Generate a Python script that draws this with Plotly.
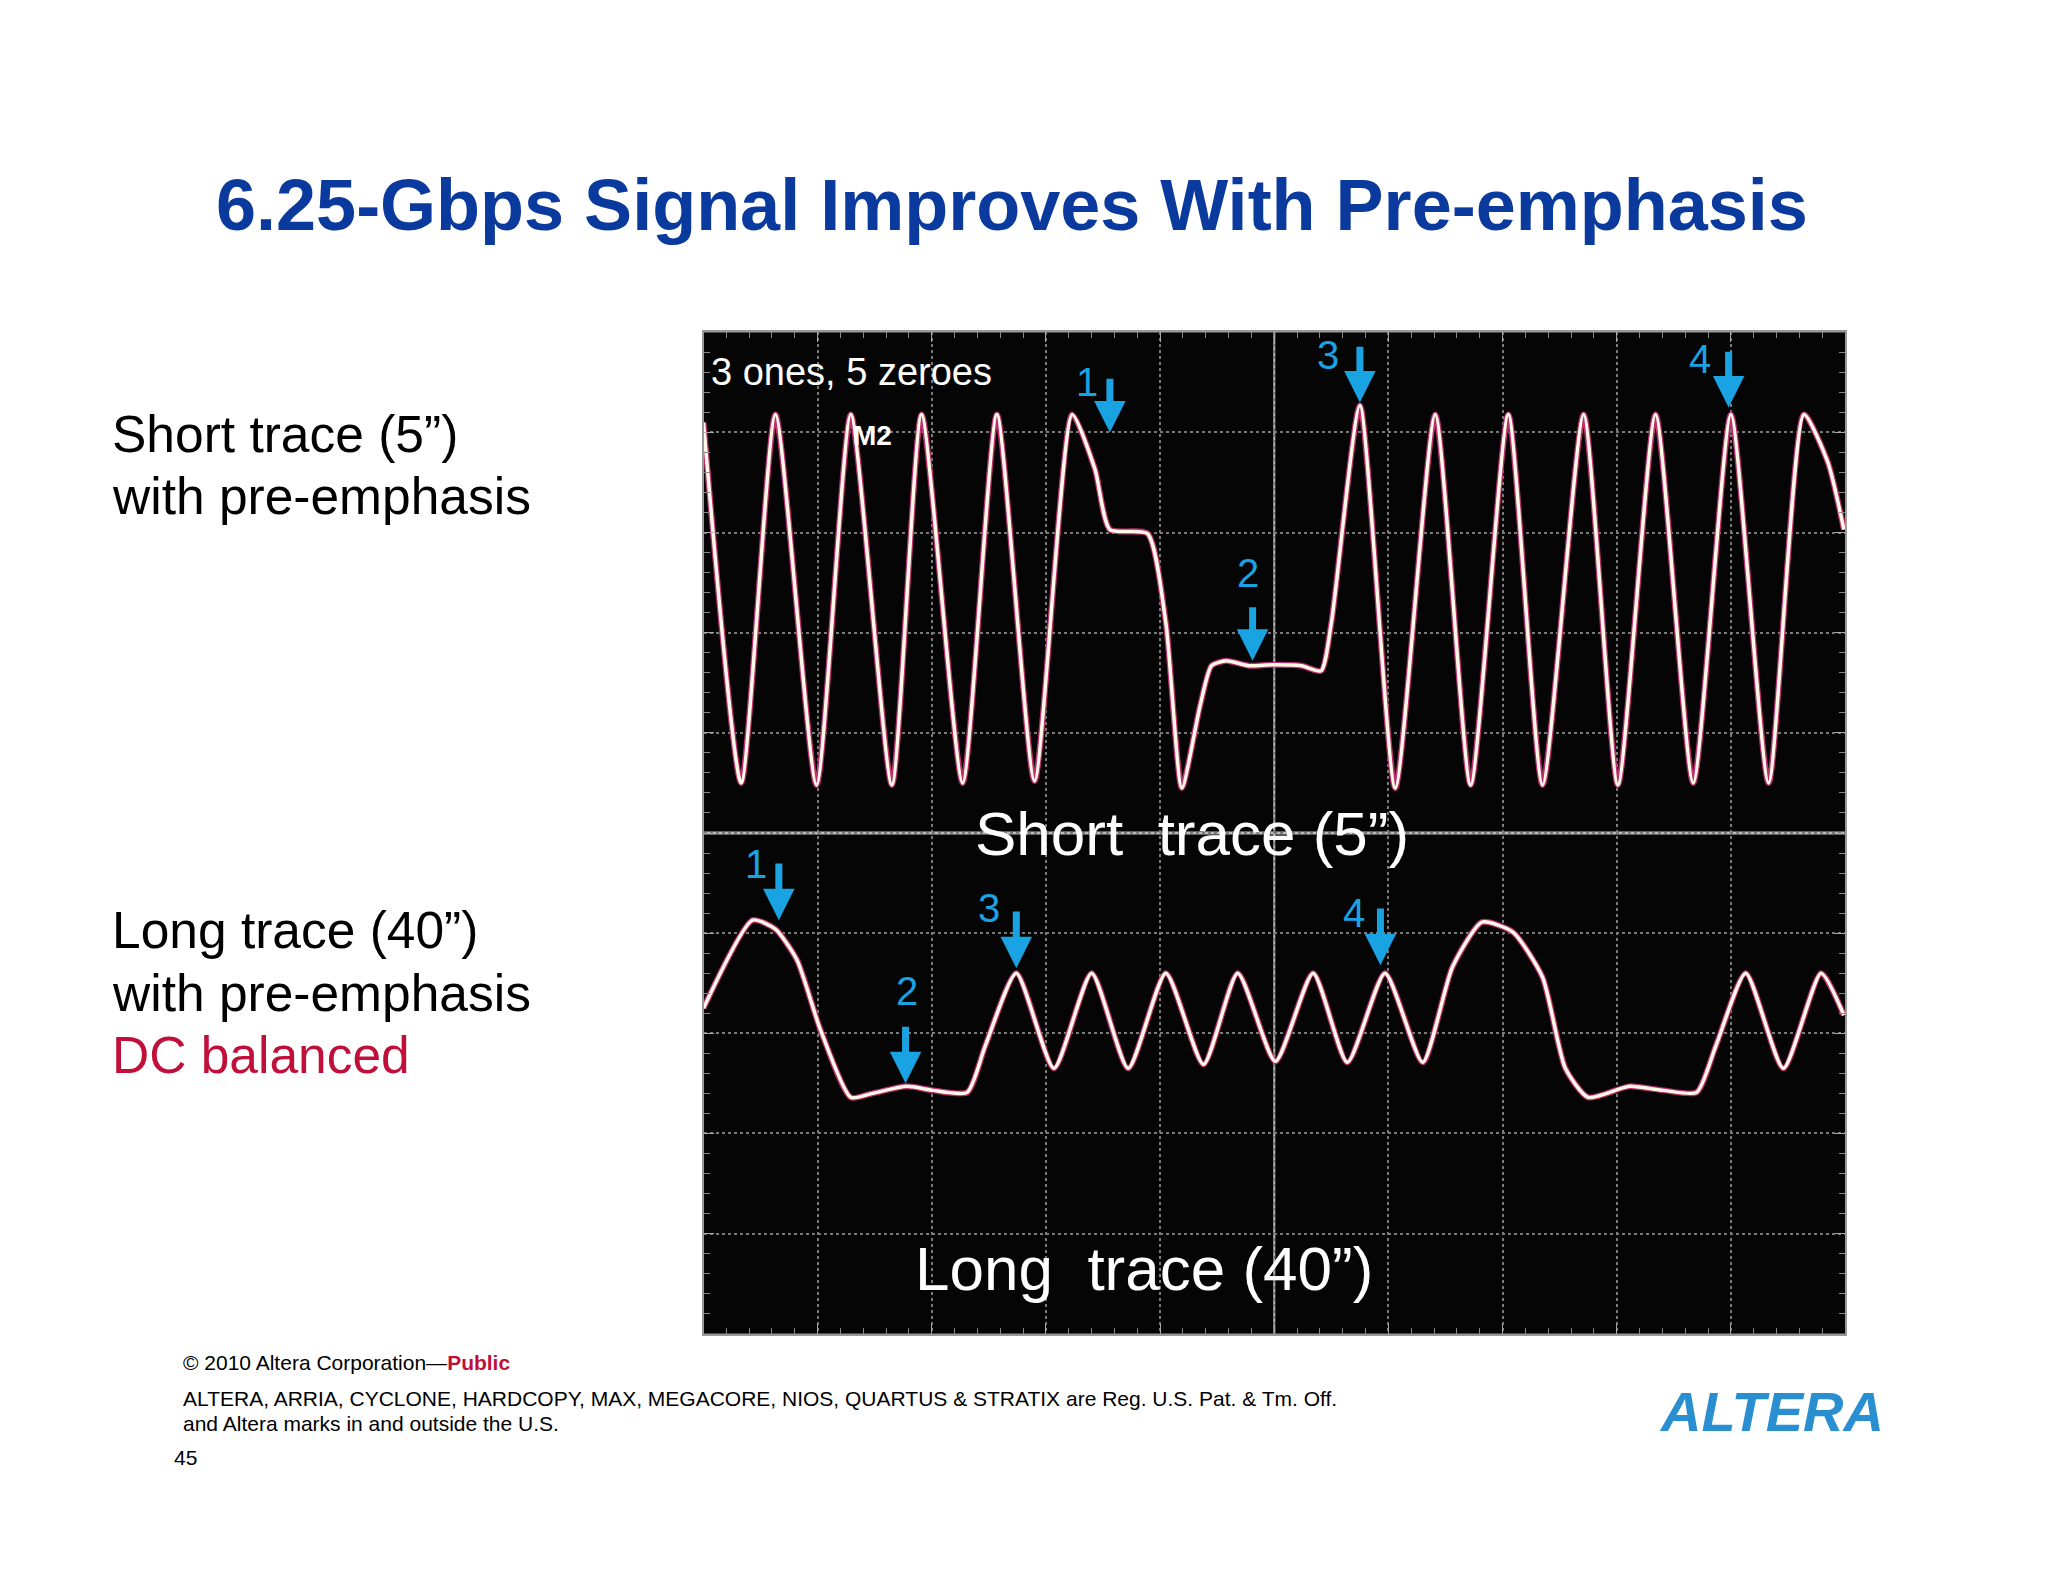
import plotly.graph_objects as go

# Short trace (5") waveform, scope divisions (x 0-10, y 5-10)
short_x = [0, 0.33, 0.63, 0.99, 1.29, 1.65, 1.91, 2.27, 2.57, 2.90, 3.23, 3.43, 3.56, 3.89, 4.05, 4.19,
           4.35, 4.45, 4.58, 4.78, 4.98, 5.24, 5.41, 5.50, 5.75, 6.06, 6.41, 6.72, 7.05, 7.35, 7.71,
           8.01, 8.34, 8.67, 9.00, 9.33, 9.64, 9.85, 9.99]
short_y = [9.1, 5.5, 9.18, 5.48, 9.18, 5.48, 9.18, 5.5, 9.18, 5.52, 9.18, 8.63, 8.03, 7.99, 7.1, 5.45,
           6.27, 6.67, 6.72, 6.67, 6.68, 6.67, 6.62, 7.1, 9.27, 5.45, 9.18, 5.48, 9.18, 5.48, 9.18,
           5.48, 9.18, 5.5, 9.18, 5.5, 9.18, 8.7, 8.03]

# Long trace (40") waveform, scope divisions (x 0-10, y 0-5)
long_x = [0, 0.43, 0.63, 0.82, 1.02, 1.29, 1.48, 1.78, 2.01, 2.31, 2.47, 2.74, 3.07, 3.40, 3.72, 4.05,
          4.38, 4.68, 5.01, 5.34, 5.64, 5.97, 6.30, 6.56, 6.82, 7.09, 7.35, 7.55, 7.75, 8.11, 8.41,
          8.70, 8.87, 9.13, 9.46, 9.79, 9.99]
long_y = [3.25, 4.13, 4.04, 3.73, 3.05, 2.36, 2.40, 2.47, 2.43, 2.41, 2.88, 3.60, 2.65, 3.60, 2.65,
          3.60, 2.69, 3.60, 2.72, 3.60, 2.71, 3.60, 2.71, 3.66, 4.11, 4.01, 3.56, 2.65, 2.36, 2.47,
          2.43, 2.41, 2.88, 3.60, 2.65, 3.60, 3.18]

# Arrow markers: (label, x, tip_y, tail_y, label_x, label_y)
short_arrows = [("1", 3.56, 9.0, 9.55, 3.36, 9.5), ("2", 4.81, 6.72, 7.27, 4.77, 7.6),
                ("3", 5.75, 9.3, 9.87, 5.47, 9.77), ("4", 8.98, 9.25, 9.82, 8.73, 9.73)]
long_arrows = [("1", 0.66, 4.13, 4.71, 0.46, 4.69), ("2", 1.77, 2.5, 3.08, 1.78, 3.42),
               ("3", 2.74, 3.65, 4.23, 2.5, 4.25), ("4", 5.93, 3.68, 4.26, 5.7, 4.2)]

fig = go.Figure()
for xs, ys in [(short_x, short_y), (long_x, long_y)]:
    fig.add_trace(go.Scatter(x=xs, y=ys, mode="lines", line=dict(color="#b8306e", width=6, shape="spline", smoothing=0.6),
                             hoverinfo="skip", showlegend=False))
    fig.add_trace(go.Scatter(x=xs, y=ys, mode="lines", line=dict(color="#fff8e6", width=3.5, shape="spline", smoothing=0.6),
                             hoverinfo="skip", showlegend=False))

BLUE = "#1aa3e3"
for lab, x, tip, tail, lx, ly in short_arrows + long_arrows:
    fig.add_annotation(x=x, y=tip, ax=x, ay=tail, axref="x", ayref="y", xref="x", yref="y",
                       showarrow=True, arrowhead=2, arrowsize=0.9, arrowwidth=7, arrowcolor=BLUE, text="")
    fig.add_annotation(x=lx, y=ly, xref="x", yref="y", text=lab, showarrow=False,
                       font=dict(family="Liberation Sans", size=40, color=BLUE))

W = "white"
fig.add_annotation(x=0.05, y=9.6, xref="x", yref="y", text="3 ones, 5 zeroes", showarrow=False, xanchor="left",
                   font=dict(family="Liberation Sans", size=38, color=W))
fig.add_annotation(x=1.48, y=8.97, xref="x", yref="y", text="<b>M2</b>", showarrow=False,
                   font=dict(family="Liberation Sans", size=28, color=W))
fig.add_annotation(x=4.28, y=5.0, xref="x", yref="y", text="Short  trace (5”)", showarrow=False,
                   font=dict(family="Liberation Sans", size=62, color=W))
fig.add_annotation(x=3.86, y=0.65, xref="x", yref="y", text="Long  trace (40”)", showarrow=False,
                   font=dict(family="Liberation Sans", size=62, color=W))

fig.add_shape(type="line", x0=5, x1=5, y0=0, y1=10, xref="x", yref="y", line=dict(color="#bbbbbb", width=2), layer="below")
fig.add_shape(type="line", x0=0, x1=10, y0=5, y1=5, xref="x", yref="y", line=dict(color="#bbbbbb", width=3), layer="below")

ax = dict(range=[0, 10], dtick=1, showgrid=True, gridcolor="#7a7a7a", griddash="dot", gridwidth=2,
          zeroline=False, showticklabels=False, ticks="inside", ticklen=10, tickcolor="#aaaaaa", mirror="ticks",
          showline=True, linecolor="#999999", linewidth=2,
          minor=dict(dtick=0.2, ticks="inside", ticklen=6, tickcolor="#888888"), fixedrange=True)
fig.update_xaxes(**ax, domain=[0.3396, 0.897])
fig.update_yaxes(**ax, domain=[0.162, 0.795])

def ptext(x, y, t, size, color="black", bold=False, anchor="left"):
    fig.add_annotation(x=x / 2048, y=1 - y / 1582, xref="paper", yref="paper", text=f"<b>{t}</b>" if bold else t,
                       showarrow=False, xanchor=anchor, yanchor="middle",
                       font=dict(family="Liberation Sans", size=size, color=color))

ptext(1004, 197, "6.25-Gbps Signal Improves With Pre-emphasis", 72, "#0b3a9e", True, "center")
ptext(102, 426, "Short trace (5”)", 51.5)
ptext(102, 488, "with pre-emphasis", 51.5)
ptext(102, 922, "Long trace (40”)", 51.5)
ptext(102, 985, "with pre-emphasis", 51.5)
ptext(102, 1047, "DC balanced", 51.5, "#c0103a")
ptext(173, 1354, "© 2010 Altera Corporation—<b><span style='color:#c0103a'>Public</span></b>", 21)
ptext(173, 1390, "ALTERA, ARRIA, CYCLONE, HARDCOPY, MAX, MEGACORE, NIOS, QUARTUS & STRATIX are Reg. U.S. Pat. & Tm. Off.", 21)
ptext(173, 1415, "and Altera marks in and outside the U.S.", 21)
ptext(164, 1449, "45", 21)
ptext(1763, 1403, "<i>ALTERA</i>", 56, "#2a8fd0", True, "center")

fig.update_layout(width=2048, height=1582, margin=dict(l=0, r=0, t=0, b=0),
                  paper_bgcolor="white", plot_bgcolor="#050505", showlegend=False)
fig.write_html("out.html")
